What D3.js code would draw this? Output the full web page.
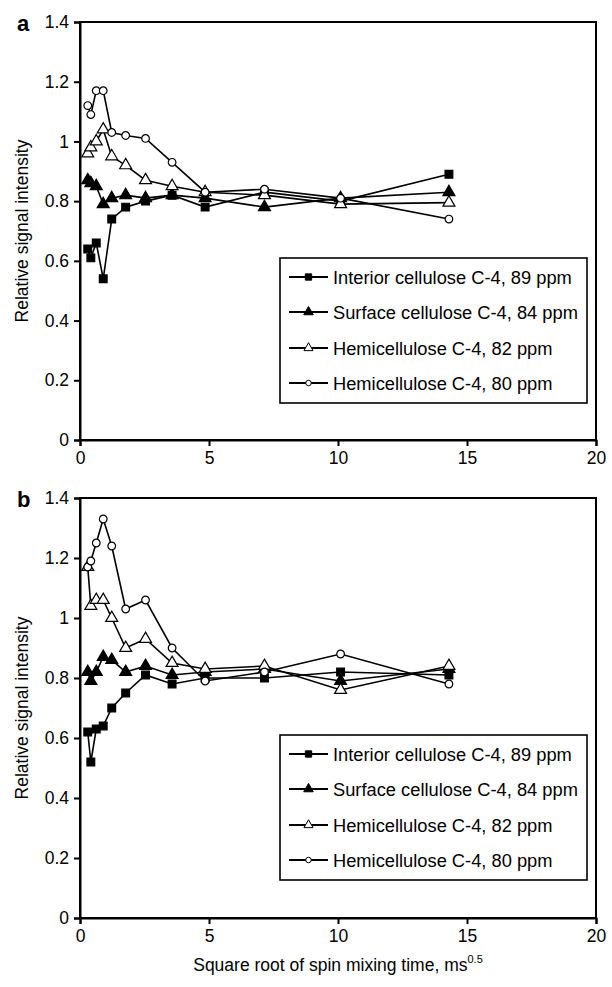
<!DOCTYPE html>
<html><head><meta charset="utf-8">
<script src="https://cdn.jsdelivr.net/npm/d3@7/dist/d3.min.js"></script>
<style>body{margin:0;background:#fff}svg{display:block}</style>
</head><body>
<svg id="c" width="612" height="987"></svg>
<script>
// ---- data ----
const xValues = [0.3, 0.42, 0.63, 0.9, 1.23, 1.77, 2.54, 3.57, 4.85, 7.15, 10.1, 14.3];
const seriesNames = ["Interior cellulose C-4, 89 ppm","Surface cellulose C-4, 84 ppm","Hemicellulose C-4, 82 ppm","Hemicellulose C-4, 80 ppm"];
const interiorA = [0.64,0.61,0.66,0.54,0.74,0.78,0.80,0.82,0.78,0.83,0.80,0.89];
const surfaceA  = [0.87,0.86,0.85,0.79,0.81,0.82,0.81,0.82,0.81,0.78,0.81,0.83];
const hemi82A   = [0.96,0.98,1.00,1.04,0.95,0.92,0.87,0.85,0.83,0.82,0.79,0.795];
const hemi80A   = [1.12,1.09,1.17,1.17,1.03,1.02,1.01,0.93,0.83,0.84,0.81,0.74];
const interiorB = [0.62,0.52,0.63,0.64,0.70,0.75,0.81,0.78,0.80,0.80,0.82,0.81];
const surfaceB  = [0.82,0.79,0.82,0.87,0.86,0.82,0.84,0.81,0.82,0.83,0.79,0.83];
const hemi82B   = [1.17,1.04,1.06,1.06,1.00,0.90,0.93,0.85,0.83,0.84,0.76,0.84];
const hemi80B   = [1.17,1.19,1.25,1.33,1.24,1.03,1.06,0.90,0.79,0.82,0.88,0.78];
const xTicks = [0,5,10,15,20];
const yTicks = [0,0.2,0.4,0.6,0.8,1,1.2,1.4];
const yTickLabels = ["0","0.2","0.4","0.6","0.8","1","1.2","1.4"];
const panelLabels = ["a","b"];

// ---- layout ----
const svg = d3.select("#c");
const FONT = "Liberation Sans, Arial, sans-serif";
const L = 80, R = 596;
const panels = [
  {top:22, bottom:440, label:panelLabels[0], data:[interiorA,surfaceA,hemi82A,hemi80A], legTop:258, showXTitle:false},
  {top:498, bottom:918, label:panelLabels[1], data:[interiorB,surfaceB,hemi82B,hemi80B], legTop:735, showXTitle:true}
];
const markerTypes = [
  {type:d3.symbolSquare, size:60, fill:"#000"},
  {type:d3.symbolTriangle, size:62, fill:"#000"},
  {type:d3.symbolTriangle, size:62, fill:"#fff"},
  {type:d3.symbolCircle, size:46, fill:"#fff"}
];
const legMarkerSize = [40,40,36,24];

const x = d3.scaleLinear().domain([0,20]).range([L,R]);

panels.forEach(p => {
  const y = d3.scaleLinear().domain([0,1.4]).range([p.bottom,p.top]);
  const g = svg.append("g");

  // frame
  g.append("rect").attr("x",L).attr("y",p.top).attr("width",R-L).attr("height",p.bottom-p.top)
    .attr("fill","none").attr("stroke","#000").attr("stroke-width",2);

  // axes
  const yAxis = d3.axisLeft(y).tickValues(yTicks).tickSize(6).tickPadding(5)
    .tickFormat((d,i)=>yTickLabels[i]);
  const ya = g.append("g").attr("transform",`translate(${L},0)`).call(yAxis);
  const xAxis = d3.axisBottom(x).tickValues(xTicks).tickSize(6).tickPadding(6);
  const xa = g.append("g").attr("transform",`translate(0,${p.bottom})`).call(xAxis);
  [ya,xa].forEach(a=>{
    a.select(".domain").attr("stroke","#000").attr("stroke-width",2);
    a.selectAll(".tick line").attr("stroke","#000").attr("stroke-width",2);
    a.selectAll("text").attr("font-family",FONT).attr("font-size",17.5).attr("fill","#000");
  });

  // panel label
  g.append("text").attr("x",17).attr("y",p.top+9).attr("font-family",FONT)
    .attr("font-weight","bold").attr("font-size",22).text(p.label);

  // y title
  g.append("text").attr("transform",`translate(28,${(p.top+p.bottom)/2}) rotate(-90)`)
    .attr("text-anchor","middle").attr("font-family",FONT).attr("font-size",17.5)
    .text("Relative signal intensity");

  // series
  const line = d3.line().x((d,i)=>x(xValues[i])).y(d=>y(d));
  p.data.forEach((vals,si)=>{
    g.append("path").attr("d",line(vals)).attr("fill","none").attr("stroke","#000").attr("stroke-width",1.6);
    const m = markerTypes[si];
    const sym = d3.symbol().type(m.type).size(m.size);
    g.selectAll(null).data(vals).enter().append("path")
      .attr("d",sym)
      .attr("transform",(d,i)=>`translate(${x(xValues[i])},${y(d)})`)
      .attr("fill",m.fill).attr("stroke","#000").attr("stroke-width",1.2);
  });

  // legend
  const lg = g.append("g");
  lg.append("rect").attr("x",280).attr("y",p.legTop).attr("width",307).attr("height",145)
    .attr("fill","#fff").attr("stroke","#000").attr("stroke-width",1.6);
  const rowY = [19,54,90,125];
  seriesNames.forEach((name,si)=>{
    const cy = p.legTop + rowY[si];
    lg.append("line").attr("x1",289).attr("x2",328).attr("y1",cy).attr("y2",cy)
      .attr("stroke","#000").attr("stroke-width",2.2);
    const m = markerTypes[si];
    lg.append("path").attr("d",d3.symbol().type(m.type).size(legMarkerSize[si]))
      .attr("transform",`translate(308.5,${cy})`).attr("fill",m.fill).attr("stroke","#000").attr("stroke-width",1);
    lg.append("text").attr("x",333).attr("y",cy+6.5).attr("font-family",FONT).attr("font-size",18.3)
      .text(name);
  });

  if (p.showXTitle) {
    const t = g.append("text").attr("x",(L+R)/2).attr("y",p.bottom+53).attr("text-anchor","middle")
      .attr("font-family",FONT).attr("font-size",17.5);
    t.append("tspan").text("Square root of spin mixing time, ms");
    t.append("tspan").attr("font-size",11).attr("dy",-8).text("0.5");
  }
});
</script>
</body></html>
